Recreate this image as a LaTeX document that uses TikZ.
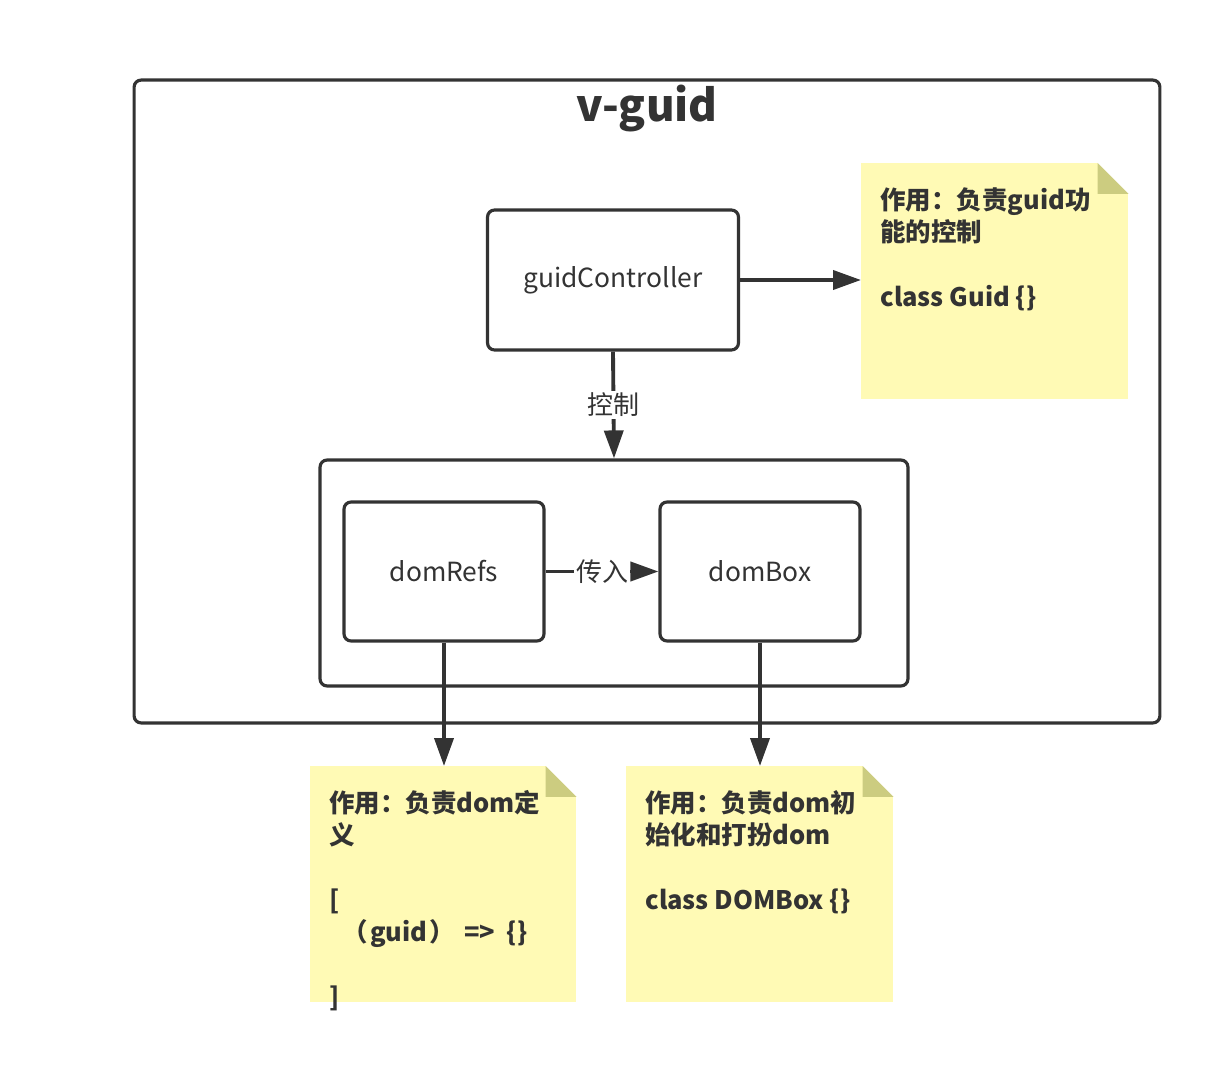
\documentclass[tikz,border=0pt]{standalone}
\usepackage{fontspec}
\setmainfont{Noto Sans CJK SC}
\usepackage{tikz}
\usetikzlibrary{arrows.meta, positioning}
\definecolor{linegray}{RGB}{51,51,51}
\definecolor{noteyellow}{RGB}{255,250,181}
\definecolor{noteolive}{RGB}{204,204,128}

% dog-ear on the top right corner of a note
\newcommand{\notefold}[1]{%
  \fill[white] ([xshift=-0.62cm]#1.north east) -- (#1.north east) -- ([yshift=-0.62cm]#1.north east) -- cycle;
  \fill[noteolive] ([xshift=-0.62cm]#1.north east) -- ([xshift=-0.62cm,yshift=-0.62cm]#1.north east) -- ([yshift=-0.62cm]#1.north east) -- cycle;}

\begin{document}
\begin{tikzpicture}[
    x=0.02cm, y=-0.02cm,
    box/.style={rectangle, rounded corners=4pt, draw=linegray, fill=white, line width=1.8pt,
                text=linegray, font=\fontsize{15}{18}\selectfont},
    note/.style={rectangle, fill=noteyellow, anchor=north west, inner xsep=0.38cm, inner ysep=0.48cm,
                 text=linegray, font=\bfseries\fontsize{14.5}{18.4}\selectfont},
    link/.style={draw=linegray, line width=2.2pt, -{Triangle[length=0.56cm,width=0.38cm]}},
    edgetext/.style={fill=white, text=linegray, inner sep=1pt, font=\fontsize{14.8}{16}\selectfont}
]
\useasboundingbox (0,0) rectangle (1218,1088);

% outer frame
\node[box, minimum width=20.52cm, minimum height=12.86cm] (vguid) at (647,401.5) {};
\node[text=linegray, font=\bfseries\fontsize{25}{30}\selectfont] (title) at (647,108) {v-guid};

\node[box, minimum width=5.02cm, minimum height=2.8cm] (ctrl) at (613,280) {guidController};

\node[box, minimum width=11.76cm, minimum height=4.52cm] (inner) at (614,573) {};
\node[box, minimum width=4cm, minimum height=2.78cm] (refs) at (444,571.5) {domRefs};
\node[box, minimum width=4cm, minimum height=2.78cm] (dbox) at (760,571.5) {domBox};

% notes
\node[note] (n1) at (861,163) {\parbox[c][3.76cm][t]{4.58cm}{%
  作用：负责guid功\\能的控制\\[18.4pt]class Guid \{\}}};
\node[note] (n2) at (310,766) {\parbox[c][3.76cm][t]{4.56cm}{%
  作用：负责dom定\\义\\[18.4pt][\\\hspace*{0.5em}（\hspace{0.1em}guid\hspace{0.1em}）\hspace{0.35em}=>\hspace{0.45em}\{\}\\[18.4pt]]}};
\node[note] (n3) at (626,766) {\parbox[c][3.76cm][t]{4.58cm}{%
  作用：负责dom初\\始化和打扮dom\\[18.4pt]class DOMBox \{\}}};
\notefold{n1}
\notefold{n2}
\notefold{n3}

\draw[link] (ctrl.east) -- (ctrl.east -| n1.west);
\draw[link] (ctrl.south) -- node[edgetext] {控制} (inner.north);
\draw[link] (refs.east) -- node[edgetext] {传入} (dbox.west);
\draw[link] (refs.south) -- (refs.south |- n2.north);
\draw[link] (dbox.south) -- (dbox.south |- n3.north);

\end{tikzpicture}
\end{document}
